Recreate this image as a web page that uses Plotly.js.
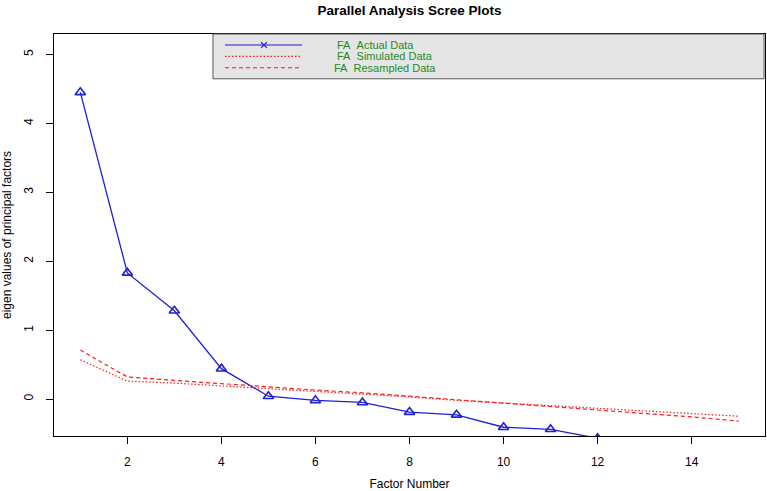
<!DOCTYPE html>
<html>
<head>
<meta charset="utf-8">
<script src="https://cdn.plot.ly/plotly-3.0.1.min.js"></script>
<style>html,body{margin:0;padding:0;background:#fff;}#chart{width:767px;height:491px;}</style>
</head>
<body>
<div id="chart"></div>
<script>
// ---- data ----
var actualFactors = [1, 2, 3, 4, 5, 6, 7, 8, 9, 10, 11, 12];
var actualData = [4.45, 1.83, 1.28, 0.44, 0.04, -0.02, -0.05, -0.19, -0.23, -0.41, -0.44, -0.57];
var simFactors = [1, 2, 3, 4, 5, 6, 7, 8, 9, 10, 11, 12, 13, 14, 15];
var simulatedData = [0.57, 0.26, 0.23, 0.19, 0.15, 0.12, 0.08, 0.03, -0.02, -0.06, -0.10, -0.14, -0.18, -0.22, -0.25];
var resampledData = [0.71, 0.32, 0.27, 0.22, 0.17, 0.13, 0.09, 0.04, -0.01, -0.06, -0.10, -0.15, -0.20, -0.26, -0.32];
var xTicks = [2, 4, 6, 8, 10, 12, 14];
var yTicks = [0, 1, 2, 3, 4, 5];
var legendLabels = ["FA\u00a0\u00a0Actual Data", "FA\u00a0\u00a0Simulated Data", "FA\u00a0\u00a0Resampled Data"];
var titleText = "Parallel Analysis Scree Plots";
var xTitle = "Factor Number";
var yTitle = "eigen values of principal factors";

var BLUE = "#1f1fd6", RED = "#ff1a1a", GREEN = "#1e8c1e";
var FONT = "Liberation Sans, Arial, Helvetica, sans-serif";

var traces = [
  {x: actualFactors, y: actualData, type: "scatter", mode: "lines+markers", name: legendLabels[0],
   line: {color: BLUE, width: 1.3}, marker: {symbol: "triangle-up-open", size: 9, color: BLUE, line: {width: 1.6, color: BLUE}}},
  {x: simFactors, y: simulatedData, type: "scatter", mode: "lines", name: legendLabels[1],
   line: {color: RED, width: 1.2, dash: "1.5px,2px"}},
  {x: simFactors, y: resampledData, type: "scatter", mode: "lines", name: legendLabels[2],
   line: {color: RED, width: 1.2, dash: "4px,3px"}}
];

// legend box geometry (paper coords)
var lgX0 = 0.2236, lgX1 = 0.9986, lgY0 = 0.8886, lgY1 = 1.0;
var rowY = [0.9726, 0.9442, 0.916];
var sx0 = 0.2405, sx1 = 0.3488, sxm = 0.2953;
var shapes = [
  {type: "rect", xref: "paper", yref: "paper", x0: lgX0, x1: lgX1, y0: lgY0, y1: lgY1,
   fillcolor: "#e5e5e5", line: {color: "#555", width: 1}, layer: "above"},
  {type: "line", xref: "paper", yref: "paper", x0: sx0, x1: sx1, y0: rowY[0], y1: rowY[0], line: {color: BLUE, width: 1.2}},
  {type: "line", xref: "paper", yref: "paper", x0: sx0, x1: sx1, y0: rowY[1], y1: rowY[1], line: {color: RED, width: 1.2, dash: "1.5px,2px"}},
  {type: "line", xref: "paper", yref: "paper", x0: sx0, x1: sx1, y0: rowY[2], y1: rowY[2], line: {color: RED, width: 1.2, dash: "4px,3px"}},
  {type: "line", xref: "paper", yref: "paper", x0: sxm - 0.004, x1: sxm + 0.004, y0: rowY[0] - 0.007, y1: rowY[0] + 0.007, line: {color: BLUE, width: 1.2}},
  {type: "line", xref: "paper", yref: "paper", x0: sxm - 0.004, x1: sxm + 0.004, y0: rowY[0] + 0.007, y1: rowY[0] - 0.007, line: {color: BLUE, width: 1.2}}
];
var textX = [0.397, 0.397, 0.393];
var annotations = legendLabels.map(function (t, i) {
  return {xref: "paper", yref: "paper", x: textX[i], y: rowY[i], xanchor: "left", yanchor: "middle",
          text: t, showarrow: false, borderpad: 0, font: {family: FONT, size: 11, color: GREEN}};
});

var layout = {
  width: 767, height: 491,
  margin: {l: 54, r: 2, t: 34, b: 55},
  paper_bgcolor: "#fff", plot_bgcolor: "#fff",
  showlegend: false,
  font: {family: FONT, size: 12, color: "#000"},
  title: {text: "<b>" + titleText + "</b>", x: 0.534, xanchor: "center", y: 0.98, yanchor: "middle",
          font: {family: FONT, size: 13.5, color: "#000"}},
  xaxis: {range: [0.44, 15.56], tickvals: xTicks, ticks: "outside", ticklen: 7, tickwidth: 1, tickcolor: "#000",
          showline: true, mirror: true, linecolor: "#000", linewidth: 1, showgrid: false, zeroline: false,
          tickfont: {family: FONT, size: 12, color: "#000"}, ticklabelstandoff: 8,
          title: {text: xTitle, font: {family: FONT, size: 12, color: "#000"}, standoff: 17}},
  yaxis: {range: [-0.537, 5.297], tickvals: yTicks, ticks: "outside", ticklen: 7, tickwidth: 1, tickcolor: "#000",
          tickangle: -90,
          showline: true, mirror: true, linecolor: "#000", linewidth: 1, showgrid: false, zeroline: false,
          tickfont: {family: FONT, size: 12, color: "#000"}, ticklabelstandoff: 8,
          title: {text: yTitle, font: {family: FONT, size: 12, color: "#000"}, standoff: 12}},
  shapes: shapes,
  annotations: annotations
};

Plotly.newPlot("chart", traces, layout, {displayModeBar: false, staticPlot: true});
</script>
</body>
</html>
